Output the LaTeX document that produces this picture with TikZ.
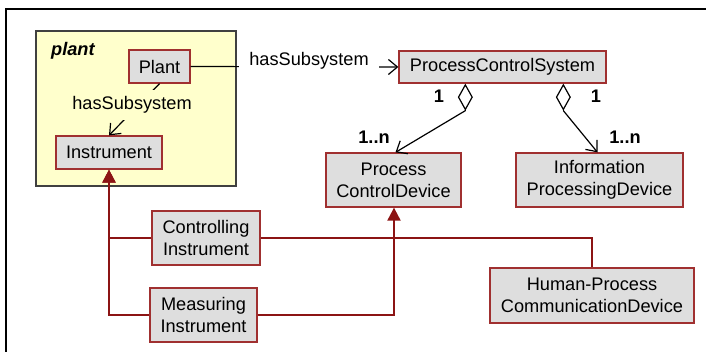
\documentclass[tikz,border=0pt]{standalone}
\usepackage{fontspec}
\setmainfont{Liberation Sans}
\usetikzlibrary{arrows.meta}
\definecolor{pkgyellow}{HTML}{FFFFCC}
\definecolor{boxgray}{HTML}{DEDEDE}
\definecolor{boxred}{HTML}{A03030}
\definecolor{genred}{HTML}{8C1414}
\tikzset{
  cls/.style={draw=boxred, line width=1.3pt, fill=boxgray, inner sep=0pt, align=center,
    font=\fontsize{18.2pt}{22pt}\selectfont, text=black},
  pkgbox/.style={draw=black!75, line width=1.2pt, fill=pkgyellow, inner sep=0pt,
    minimum width=200pt, minimum height=155pt},
  txt/.style={font=\fontsize{18.2pt}{22pt}\selectfont, inner sep=0pt},
  btxt/.style={font=\fontsize{18.2pt}{22pt}\selectfont\bfseries, inner sep=0pt},
  assoc/.style={draw=black, line width=1.2pt},
  barb/.style={-{Straight Barb[length=9pt,width=15pt,line width=1.2pt]}},
  aggr/.style={draw=black, line width=1.2pt, {Diamond[open,length=27pt,width=15pt,line width=1.2pt]}-},
  gen/.style={draw=genred, line width=2pt, -{Triangle[length=13pt,width=13pt,fill=genred]}},
  link/.style={draw=genred, line width=2pt},
}
\begin{document}
\begin{tikzpicture}[x=1pt,y=-1pt]
\useasboundingbox (0,0) rectangle (706,352);
% outer frame (only top and left edges visible)
\draw[line width=2pt] (6,352) -- (6,9) -- (706,9);

% package
\node[pkgbox] (pkg) at (136,108.5) {};
\node[txt, anchor=west, font=\fontsize{18.2pt}{22pt}\selectfont\bfseries\itshape] (pkgname) at (51,51) {plant};

% classes
\node[cls, minimum width=61pt, minimum height=33pt] (plant) at (159.5,66.5) {Plant};
\node[cls, minimum width=106pt, minimum height=33pt] (inst) at (109,152.5) {Instrument};
\node[cls, minimum width=207pt, minimum height=32pt] (pcs) at (502.5,67) {ProcessControlSystem};
\node[cls, minimum width=135pt, minimum height=54pt] (pcd) at (393.5,180) {Process\\ControlDevice};
\node[cls, minimum width=167pt, minimum height=54pt] (ipd) at (599.5,180) {Information\\ProcessingDevice};
\node[cls, minimum width=108pt, minimum height=54pt] (ctl) at (206,238) {Controlling\\Instrument};
\node[cls, minimum width=107pt, minimum height=54pt] (meas) at (203.5,315) {Measuring\\Instrument};
\node[cls, minimum width=204pt, minimum height=55pt] (hpcd) at (592,295.5) {Human-Process\\CommunicationDevice};

% Plant -> Instrument (hasSubsystem)
\draw[assoc, barb] (plant.south) -- (inst.north);
\node[txt, fill=pkgyellow, inner xsep=2pt, inner ysep=7pt] (lbl1) at (132,105) {hasSubsystem};

% Plant -> ProcessControlSystem (hasSubsystem)
\draw[assoc, barb] (plant.east) -- (pcs.west);
\node[txt, fill=white, inner xsep=10pt, inner ysep=4pt, anchor=base] (lbl2) at (309,66) {hasSubsystem};

% aggregations
\draw[aggr] ([xshift=67pt]pcs.south west) -- ++(0,27) coordinate (d1);
\draw[assoc, barb] (d1) -- ([xshift=2pt]pcd.north);
\draw[aggr] ([xshift=165pt]pcs.south west) -- ++(0,27) coordinate (d2);
\draw[assoc, barb] (d2) -- ([xshift=-2pt]ipd.north);
\node[btxt] (m1) at (439,96) {1};
\node[btxt] (m2) at (374,137) {1..n};
\node[btxt] (m3) at (596,96) {1};
\node[btxt] (m4) at (625,137) {1..n};

% generalizations
\draw[link] (ctl.east) -| (hpcd.north);
\draw[gen] (meas.west) -| (inst.south);
\draw[gen] (ctl.west) -| (inst.south);
\draw[gen] (meas.east) -| ([xshift=0.5pt]pcd.south);
\end{tikzpicture}
\end{document}
